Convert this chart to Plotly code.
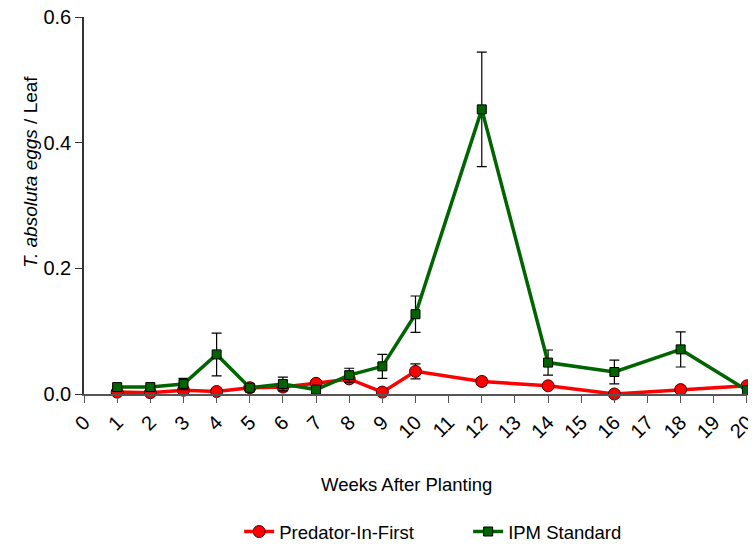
import plotly.graph_objects as go

weeks = [1, 2, 3, 4, 5, 6, 7, 8, 9, 10, 12, 14, 16, 18, 20]
pif_mean = [0.003, 0.002, 0.006, 0.004, 0.010, 0.011, 0.017, 0.024, 0.003, 0.036, 0.020, 0.013, 0.000, 0.007, 0.013]
pif_err = [0.002, 0.002, 0.002, 0.001, 0.002, 0.003, 0.006, 0.005, 0.001, 0.012, 0.006, 0.002, 0.000, 0.002, 0.005]
ipm_mean = [0.011, 0.011, 0.016, 0.063, 0.010, 0.016, 0.007, 0.030, 0.044, 0.127, 0.453, 0.050, 0.035, 0.071, 0.006]
ipm_err = [0.002, 0.002, 0.009, 0.034, 0.002, 0.011, 0.002, 0.011, 0.019, 0.029, 0.091, 0.020, 0.019, 0.028, 0.005]
tick_vals = list(range(0, 21))
tick_text = [str(v) for v in tick_vals]
y_ticks = [0.0, 0.2, 0.4, 0.6]

fig = go.Figure()
fig.add_trace(go.Scatter(
    x=weeks, y=pif_mean, name="Predator-In-First", mode="lines+markers",
    line=dict(color="#ff0000", width=3.5),
    marker=dict(symbol="circle", size=12, color="#ff0000", line=dict(color="#400000", width=1)),
    error_y=dict(type="data", array=pif_err, color="black", thickness=1.2, width=5),
    cliponaxis=False,
))
fig.add_trace(go.Scatter(
    x=weeks, y=ipm_mean, name="IPM Standard", mode="lines+markers",
    line=dict(color="#006400", width=3.5),
    marker=dict(symbol="square", size=9, color="#006400", line=dict(color="black", width=1)),
    error_y=dict(type="data", array=ipm_err, color="black", thickness=1.2, width=5),
    cliponaxis=False,
))

fig.update_layout(
    width=748, height=536,
    paper_bgcolor="white", plot_bgcolor="white",
    margin=dict(l=76, r=9, t=9, b=150, autoexpand=False),
    font=dict(family="Liberation Sans, Arial, sans-serif", color="black"),
    showlegend=True,
    legend=dict(orientation="h", x=0.234, xanchor="left", y=-0.366, yanchor="middle",
                font=dict(size=18.5, color="black"), entrywidth=184, entrywidthmode="pixels"),
    xaxis=dict(range=[-0.001, 20.001], tickvals=tick_vals, ticktext=tick_text, tickangle=-45,
               showline=True, linecolor="#555555", linewidth=1.5, ticks="outside",
               ticklen=7, tickcolor="#555555", showgrid=False, zeroline=False,
               tickfont=dict(size=20, color="black"), automargin=False,
               ticklabeloverflow="allow"),
    yaxis=dict(range=[0, 0.6], tickvals=y_ticks, ticktext=["0.0", "0.2", "0.4", "0.6"],
               showline=True, linecolor="#333333", linewidth=1.5, ticks="outside",
               ticklen=7, tickcolor="#333333", showgrid=False, zeroline=False,
               tickfont=dict(size=20, color="black"), automargin=False,
               ticklabeloverflow="allow"),
    annotations=[
        dict(text="Weeks After Planting", x=0.487, y=-0.241, xref="paper", yref="paper",
             xanchor="center", yanchor="middle", showarrow=False,
             font=dict(size=18.5, color="black")),
        dict(text="<i>T. absoluta eggs</i> / Leaf", x=-0.080, y=0.589, xref="paper", yref="paper",
             xanchor="center", yanchor="middle", showarrow=False, textangle=-90,
             font=dict(size=19, color="black")),
    ],
)

fig.write_html("out.html")
